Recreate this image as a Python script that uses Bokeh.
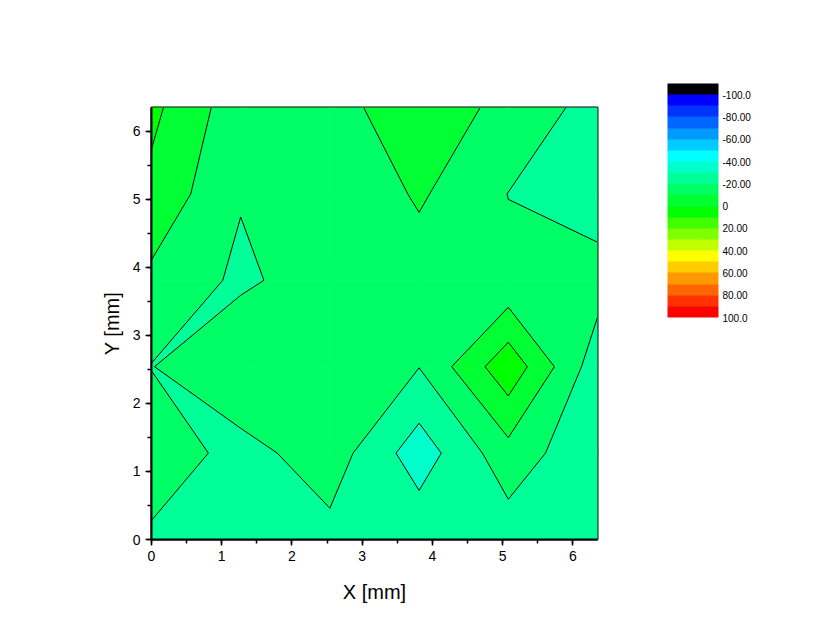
from bokeh.plotting import figure
from bokeh.models import (Range1d, SingleIntervalTicker, ColorBar, LinearColorMapper,
                          FixedTicker, AllLabels)
from bokeh.embed import file_html
from bokeh.resources import INLINE

# ---------------- data ----------------
x_mm = [0.0, 1.27, 2.54, 3.81, 5.08, 6.35]
y_mm = [0.0, 1.27, 2.54, 3.81, 5.08, 6.35]
# z values, one list per y row (left to right along x)
z_y0_00 = [-21.86, -24.0, -23.06, -22.9, -25.5, -27.0]
z_y1_27 = [-13.4, -23.75, -14.6, -35.4, -13.7, -28.8]
z_y2_54 = [-20.33, -10.7, -14.0, -19.8, 7.0, -25.9]
z_y3_81 = [-12.25, -21.95, -14.45, -15.0, -17.7, -15.6]
z_y5_08 = [-2.7, -19.29, -19.3, -8.64, -20.155, -25.58]
z_y6_35 = [2.5, -16.16, -13.65, -4.0, -12.76, -23.97]
Z = [z_y0_00, z_y1_27, z_y2_54, z_y3_81, z_y5_08, z_y6_35]

level_edges = list(range(-110, 101, 10))  # 21 bands
band_colors = ["#000000", "#0000FF", "#0033FF", "#0066FF", "#0099FF", "#00CCFF",
               "#00FFFF", "#00FFCC", "#00FF99", "#00FF66", "#00FF33", "#00FF00",
               "#40FF00", "#80FF00", "#BFFF00", "#FFFF00", "#FFCC00", "#FF9900",
               "#FF6600", "#FF3300", "#FF0000"]
cbar_tick_values = [-100, -80, -60, -40, -20, 0, 20, 40, 60, 80, 100]
cbar_tick_labels = ["-100.0", "-80.00", "-60.00", "-40.00", "-20.00", "0",
                    "20.00", "40.00", "60.00", "80.00", "100.0"]

FONT = "Liberation Sans"

# ---------------- contour geometry (marching squares) ----------------
def cell(i, j):
    cx = [x_mm[i], x_mm[i + 1], x_mm[i + 1], x_mm[i]]
    cy = [y_mm[j], y_mm[j], y_mm[j + 1], y_mm[j + 1]]
    cz = [Z[j][i], Z[j][i + 1], Z[j + 1][i + 1], Z[j + 1][i]]
    return cx, cy, cz

def perimeter(cx, cy, cz):
    pts = []
    for k in range(4):
        a, b = k, (k + 1) % 4
        pts.append((cx[a], cy[a], cz[a]))
        between = [lv for lv in level_edges if min(cz[a], cz[b]) < lv < max(cz[a], cz[b])]
        between.sort(reverse=cz[a] > cz[b])
        for lv in between:
            t = (lv - cz[a]) / (cz[b] - cz[a])
            pts.append((cx[a] + t * (cx[b] - cx[a]), cy[a] + t * (cy[b] - cy[a]), lv))
    return pts

nx, ny = len(x_mm), len(y_mm)
band_polys = {k: ([], []) for k in range(len(band_colors))}
line_xs, line_ys = [], []
for j in range(ny - 1):
    for i in range(nx - 1):
        cx, cy, cz = cell(i, j)
        pts = perimeter(cx, cy, cz)
        for k in range(len(band_colors)):
            lo, hi = level_edges[k], level_edges[k + 1]
            sel = [pt for pt in pts if lo <= pt[2] <= hi]
            if len(sel) >= 3:
                band_polys[k][0].append([pt[0] for pt in sel])
                band_polys[k][1].append([pt[1] for pt in sel])
        for lv in level_edges:
            cr = {}
            for k in range(4):
                a, b = k, (k + 1) % 4
                if (cz[a] - lv) * (cz[b] - lv) < 0:
                    t = (lv - cz[a]) / (cz[b] - cz[a])
                    cr[k] = (cx[a] + t * (cx[b] - cx[a]), cy[a] + t * (cy[b] - cy[a]))
            segs = []
            if len(cr) == 2:
                e1, e2 = list(cr.keys())
                segs.append((cr[e1], cr[e2]))
            elif len(cr) == 4:
                for c in range(4):
                    if cz[c] > lv:
                        segs.append((cr[(c - 1) % 4], cr[c]))
            for s0, s1 in segs:
                line_xs.append([s0[0], s1[0]])
                line_ys.append([s0[1], s1[1]])

# ---------------- main plot ----------------
p = figure(frame_width=446, frame_height=432,
           min_border_left=151, min_border_right=200, min_border_top=107, min_border_bottom=90,
           x_range=Range1d(0, 6.35), y_range=Range1d(0, 6.35),
           output_backend="svg", toolbar_location=None)

for k in sorted(band_polys.keys(), reverse=True):
    xs, ys = band_polys[k]
    if xs:
        p.patches(xs, ys, fill_color=band_colors[k], line_color=band_colors[k], line_width=0.8)
p.multi_line(line_xs, line_ys, line_color="black", line_width=1)

p.xgrid.visible = False
p.ygrid.visible = False
p.outline_line_color = "black"
p.outline_line_width = 2
p.background_fill_color = "white"
p.border_fill_color = "white"

for ax in (p.xaxis[0], p.yaxis[0]):
    ax.ticker = SingleIntervalTicker(interval=1, num_minor_ticks=2)
    ax.axis_line_width = 2
    ax.axis_line_color = "black"
    ax.major_tick_in = 0
    ax.major_tick_out = 6
    ax.minor_tick_in = 0
    ax.minor_tick_out = 4
    ax.major_tick_line_width = 1.5
    ax.minor_tick_line_width = 1.5
    ax.major_tick_line_color = "black"
    ax.minor_tick_line_color = "black"
    ax.major_label_text_font = FONT
    ax.major_label_text_font_size = "14px"
    ax.major_label_text_color = "black"
    ax.axis_label_text_font = FONT
    ax.axis_label_text_font_size = "20px"
    ax.axis_label_text_font_style = "normal"
    ax.axis_label_text_color = "black"
    ax.major_label_standoff = 5

p.xaxis.axis_label = "X [mm]"
p.yaxis.axis_label = "Y [mm]"
p.xaxis.axis_label_standoff = 17
p.yaxis.axis_label_standoff = 7

# ---------------- colour bar (top = -100 side, bottom = +100 side) ----------------
# the bar is drawn on a mirrored axis (value -> -value) so that -100 sits on top
mapper = LinearColorMapper(palette=band_colors[::-1], low=-level_edges[-1], high=-level_edges[0])
overrides = {float(-v): lab for v, lab in zip(cbar_tick_values, cbar_tick_labels)}
cbar = ColorBar(color_mapper=mapper,
                ticker=FixedTicker(ticks=[float(-v) for v in cbar_tick_values]),
                major_label_overrides=overrides,
                major_label_policy=AllLabels(),
                width=51, height=234, padding=0, margin=0,
                location=(516, 222),
                label_standoff=4,
                major_tick_line_color=None, minor_tick_line_color=None,
                bar_line_color=None, border_line_color=None,
                background_fill_color=None,
                major_label_text_font=FONT, major_label_text_font_size="10px",
                major_label_text_color="black")
p.add_layout(cbar, "center")

open("out.html", "w").write(file_html(p, INLINE))
